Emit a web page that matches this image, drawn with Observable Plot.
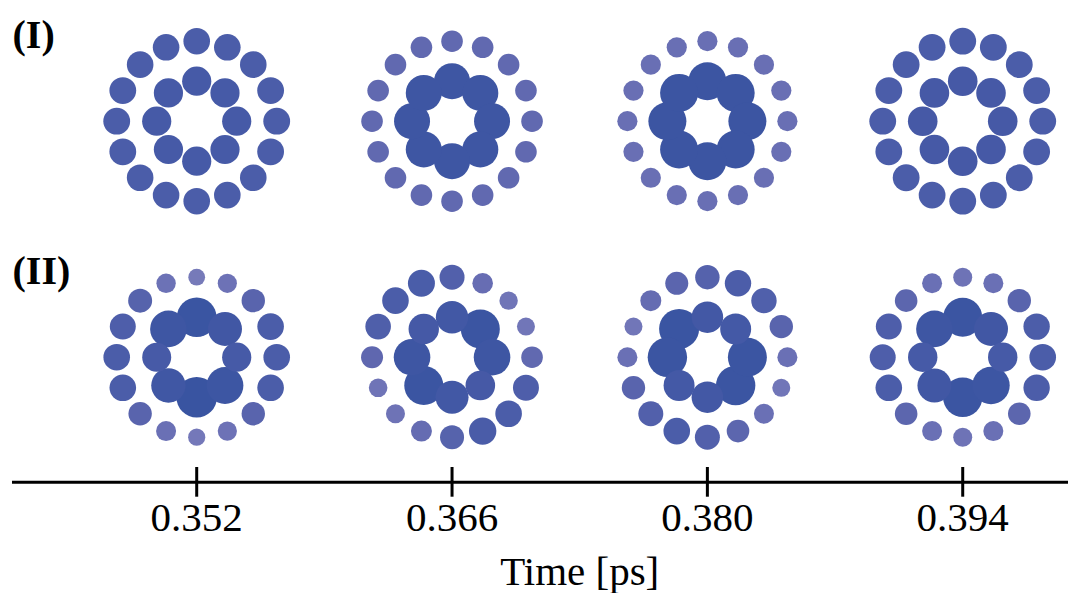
<!DOCTYPE html>
<html>
<head>
<meta charset="utf-8">
<script src="https://cdn.jsdelivr.net/npm/d3@7"></script>
<script src="https://cdn.jsdelivr.net/npm/@observablehq/plot@0.6"></script>
<style>
  html, body { margin: 0; padding: 0; background: #fff; }
</style>
</head>
<body>
<div id="chart"></div>
<script>
// ---- data ----
const times = [0.352, 0.366, 0.380, 0.394];
const rowLabels = ["(I)", "(II)"];
const tickLabels = ["0.352", "0.366", "0.380", "0.394"];
const axisTitle = "Time [ps]";

// dot radii (px), clockwise starting at the top
// row (I): outer ring (16 dots) and inner ring (8 dots) per time
const outerI = [
  [13.3, 13.3, 13.3, 13.4, 13.4, 13.4, 13.3, 13.3, 13.3, 13.3, 13.3, 13.4, 13.4, 13.4, 13.3, 13.3],
  [10.8, 10.8, 10.8, 10.8, 10.8, 10.8, 10.8, 10.8, 10.8, 10.8, 10.8, 10.8, 10.8, 10.8, 10.8, 10.8],
  [10.1, 10.1, 10.1, 10.1, 10.1, 10.1, 10.1, 10.1, 10.1, 10.1, 10.1, 10.1, 10.1, 10.1, 10.1, 10.1],
  [13.4, 13.4, 13.4, 13.4, 13.4, 13.4, 13.4, 13.4, 13.4, 13.4, 13.4, 13.4, 13.4, 13.4, 13.4, 13.4]
];
const innerI = [
  [14.6, 14.6, 14.6, 14.6, 14.6, 14.6, 14.6, 14.6],
  [18.0, 18.0, 18.0, 18.0, 18.0, 18.0, 18.0, 18.0],
  [19.0, 19.0, 19.0, 19.0, 19.0, 19.0, 19.0, 19.0],
  [14.8, 14.8, 14.8, 14.8, 14.8, 14.8, 14.8, 14.8]
];
// row (II)
const outerII = [
  [8.4, 9.6, 11.7, 13.3, 13.3, 13.3, 11.7, 9.6, 8.6, 10.0, 11.7, 13.3, 13.3, 13.0, 12.0, 9.7],
  [12.5, 10.3, 9.2, 9.0, 10.8, 13.0, 13.3, 13.7, 12.0, 10.5, 9.5, 9.3, 11.0, 12.8, 13.3, 13.5],
  [12.2, 13.2, 12.7, 11.7, 10.0, 9.0, 10.0, 11.3, 12.5, 13.3, 12.5, 11.7, 10.0, 9.0, 10.5, 11.5],
  [9.5, 10.0, 11.7, 13.2, 13.3, 13.2, 11.3, 10.0, 9.5, 10.0, 11.3, 13.3, 13.0, 13.0, 11.3, 10.0]
];
const innerII = [
  [19.8, 17.0, 14.6, 18.4, 20.3, 17.2, 14.5, 18.3],
  [16.2, 19.5, 18.3, 14.8, 16.5, 19.5, 18.3, 15.2],
  [15.8, 15.5, 19.5, 19.7, 15.8, 15.5, 19.7, 20.0],
  [19.5, 17.0, 14.7, 18.7, 19.7, 17.0, 14.7, 18.3]
];

// ---- layout ----
const W = 1073, H = 593;
const marginLeft = 12, marginRight = 5, marginBottom = 111.3, marginTop = 0;
const xDomain = [0.3419, 0.3998];
const pxPerPs = (W - marginLeft - marginRight) / (xDomain[1] - xDomain[0]);
const rowCenter = [361, 125];      // y (px above the axis) of each row's ring centre
const innerR = 40, outerR = 80;    // ring radii in px

const dots = [];
function addRing(radii, ringR, t, row) {
  const n = radii.length;
  radii.forEach((r, k) => {
    const th = (2 * Math.PI * k) / n;
    dots.push({
      x: t + (ringR * Math.sin(th)) / pxPerPs,
      y: rowCenter[row] + ringR * Math.cos(th),
      r
    });
  });
}
times.forEach((t, i) => {
  addRing(outerI[i], outerR, t, 0);
  addRing(innerI[i], innerR, t, 0);
  addRing(outerII[i], outerR, t, 1);
  addRing(innerII[i], innerR, t, 1);
});
dots.sort((a, b) => a.r - b.r);

const labelData = rowLabels.map((s, i) => ({label: s, y: rowCenter[i] + 73}));

const chart = Plot.plot({
  width: W,
  height: H,
  marginLeft, marginRight, marginTop, marginBottom,
  style: {fontFamily: "'Liberation Serif', 'Times New Roman', serif", color: "#000", background: "#fff"},
  x: {domain: xDomain, axis: null},
  y: {domain: [0, H - marginBottom - marginTop], axis: null},
  r: {type: "linear", domain: [0, 20], range: [0, 20]},
  color: {
    type: "linear",
    domain: [8.5, 10, 11, 13.3, 15, 19.5],
    range: ["#7579b9", "#6a70b5", "#5f67af", "#4b5da9", "#4559a6", "#3b55a2"]
  },
  marks: [
    Plot.ruleY([0], {stroke: "#000", strokeWidth: 3}),
    Plot.ruleX(times, {x: d => d, y1: -15, y2: 14.7, stroke: "#000", strokeWidth: 3}),
    Plot.axisX({
      ticks: times,
      tickSize: 0,
      tickPadding: 20,
      tickFormat: (d) => tickLabels[times.indexOf(d)],
      fontSize: 41,
      label: null
    }),
    Plot.text([axisTitle], {
      x: d3.mean(times),
      frameAnchor: "bottom",
      dy: 103,
      lineAnchor: "bottom",
      fontSize: 41,
      fill: "#000"
    }),
    Plot.dot(dots, {x: "x", y: "y", r: "r", fill: "r", stroke: "none"}),
    Plot.text(labelData, {
      y: "y",
      text: "label",
      frameAnchor: "left",
      textAnchor: "start",
      lineAnchor: "bottom",
      fontSize: 40,
      fontWeight: "bold",
      fill: "#000"
    })
  ]
});
document.getElementById("chart").appendChild(chart);
</script>
</body>
</html>
